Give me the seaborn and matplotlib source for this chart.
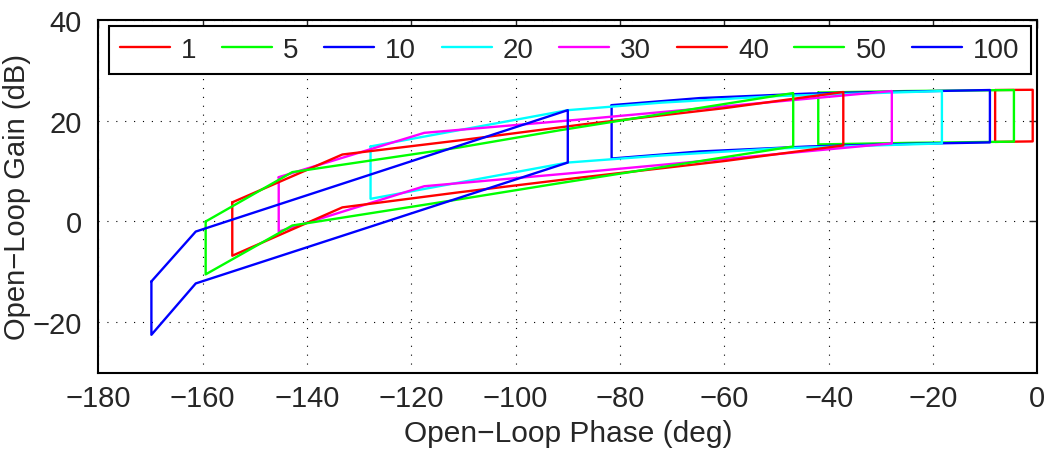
import matplotlib
matplotlib.use("Agg")
import matplotlib.pyplot as plt
import seaborn as sns

# frequencies shown in the legend
labels = ["1", "5", "10", "20", "30", "40", "50", "100"]
colors = ["#ff0000", "#00ff00", "#0000ff", "#00ffff", "#ff00ff", "#ff0000", "#00ff00", "#0000ff"]

# template outlines: upper edge (left -> right) and lower edge (left -> right)
up_phase_1 = [-8.1, -0.9]
up_gain_1 = [26.1, 26.15]
lo_phase_1 = [-8.1, -0.9]
lo_gain_1 = [15.8, 15.9]

up_phase_5 = [-42.0, -25.0, -4.5]
up_gain_5 = [25.6, 25.9, 26.1]
lo_phase_5 = [-42.0, -25.0, -4.5]
lo_gain_5 = [15.3, 15.6, 15.85]

up_phase_10 = [-81.6, -64.7, -43.7, -25.0, -9.1]
up_gain_10 = [23.1, 24.5, 25.4, 25.8, 26.1]
lo_phase_10 = [-81.6, -64.7, -43.7, -25.0, -9.1]
lo_gain_10 = [12.5, 13.9, 14.9, 15.4, 15.7]

up_phase_20 = [-127.8, -90.0, -72.0, -50.0, -18.3]
up_gain_20 = [14.9, 22.1, 23.6, 24.9, 25.9]
lo_phase_20 = [-127.8, -90.0, -72.0, -50.0, -18.3]
lo_gain_20 = [4.5, 11.7, 13.1, 14.5, 15.5]

up_phase_30 = [-145.4, -117.5, -87.0, -27.9]
up_gain_30 = [8.8, 17.6, 20.3, 25.9]
lo_phase_30 = [-145.4, -117.5, -87.0, -27.9]
lo_gain_30 = [-2.0, 7.0, 9.8, 15.5]

up_phase_40 = [-154.3, -133.2, -110.8, -86.9, -60.0, -37.2]
up_gain_40 = [3.8, 13.3, 16.1, 19.3, 22.5, 25.7]
lo_phase_40 = [-154.3, -133.2, -110.8, -86.9, -60.0, -37.2]
lo_gain_40 = [-6.8, 2.8, 5.8, 8.8, 12.0, 15.1]

up_phase_50 = [-159.4, -142.8, -110.8, -91.6, -46.8]
up_gain_50 = [0.0, 9.8, 14.7, 18.1, 25.5]
lo_phase_50 = [-159.4, -142.8, -110.8, -91.6, -46.8]
lo_gain_50 = [-10.5, -0.8, 4.4, 7.6, 14.9]

up_phase_100 = [-169.8, -161.3, -90.0]
up_gain_100 = [-11.9, -2.0, 22.1]
lo_phase_100 = [-169.8, -161.3, -90.0]
lo_gain_100 = [-22.5, -12.3, 11.7]

templates = [
    (up_phase_1, up_gain_1, lo_phase_1, lo_gain_1),
    (up_phase_5, up_gain_5, lo_phase_5, lo_gain_5),
    (up_phase_10, up_gain_10, lo_phase_10, lo_gain_10),
    (up_phase_20, up_gain_20, lo_phase_20, lo_gain_20),
    (up_phase_30, up_gain_30, lo_phase_30, lo_gain_30),
    (up_phase_40, up_gain_40, lo_phase_40, lo_gain_40),
    (up_phase_50, up_gain_50, lo_phase_50, lo_gain_50),
    (up_phase_100, up_gain_100, lo_phase_100, lo_gain_100),
]

sns.set_style("white")
plt.rcParams["font.family"] = ["Liberation Sans", "DejaVu Sans"]

fig = plt.figure(figsize=(10.5, 4.52), dpi=100)
ax = fig.add_axes([0.0935, 0.1735, 0.8945, 0.78])

for (up_x, up_y, lo_x, lo_y), lab, col in zip(templates, labels, colors):
    # closed outline: upper edge, then lower edge back, then back to start
    px = up_x + lo_x[::-1] + [up_x[0]]
    py = up_y + lo_y[::-1] + [up_y[0]]
    sns.lineplot(x=px, y=py, sort=False, estimator=None, color=col,
                 linewidth=1.7, label=lab, ax=ax)

ax.set_xlim(-180, 0)
ax.set_ylim(-30, 40)
ax.set_xticks(range(-180, 1, 20))
ax.set_yticks(range(-20, 41, 20))
ax.grid(True, color="black", linestyle=(0, (1, 7)), linewidth=0.8)
ax.tick_params(direction="in", length=6, width=1, top=True, right=True,
               labelsize=21)
ax.tick_params(axis="x", pad=8)
ax.tick_params(axis="y", pad=12)
for s in ax.spines.values():
    s.set_linewidth(1.5)
    s.set_color("black")

ax.set_xlabel("Open\u2212Loop Phase (deg)", fontsize=21.5, labelpad=5)
ax.set_ylabel("Open\u2212Loop Gain (dB)", fontsize=21, labelpad=1)

leg = ax.legend(ncol=8, loc="upper left", bbox_to_anchor=(0.011, 0.983),
                fontsize=20, frameon=True, fancybox=False, handlelength=1.8,
                handletextpad=0.4, columnspacing=0.92, borderpad=0.4,
                borderaxespad=0)
leg.get_frame().set_edgecolor("black")
leg.get_frame().set_linewidth(1.5)
leg.get_frame().set_alpha(1)

fig.savefig("out.png", dpi=100)
